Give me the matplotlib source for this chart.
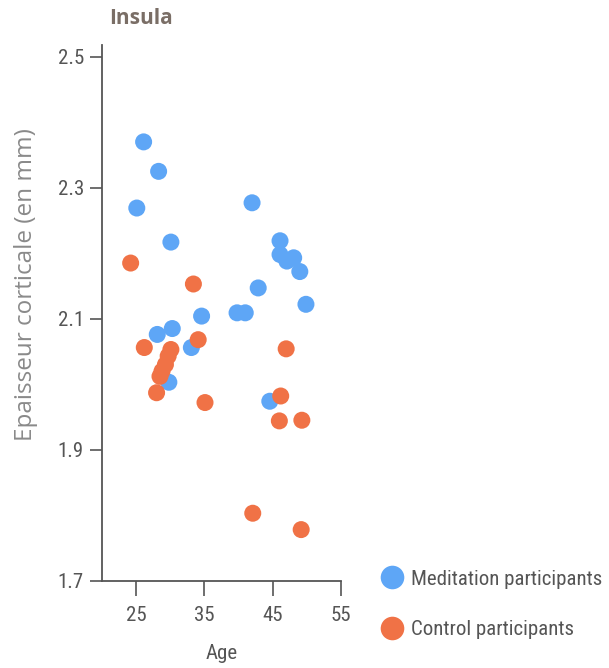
import matplotlib
matplotlib.use("Agg")
import matplotlib.pyplot as plt
from matplotlib.lines import Line2D
from matplotlib import font_manager

# Data
med_age = [26.1, 28.3, 25.1, 30.1, 42.0, 46.1, 46.1, 47.1, 48.1, 49.0, 42.9,
           49.9, 34.6, 39.8, 41.0, 28.1, 30.3, 33.1, 29.8, 44.6]
med_thk = [2.370, 2.325, 2.269, 2.217, 2.277, 2.219, 2.198, 2.188, 2.193, 2.172,
           2.147, 2.122, 2.104, 2.109, 2.109, 2.076, 2.085, 2.056, 2.003, 1.974]

ctl_age = [24.2, 33.4, 26.2, 30.1, 29.7, 29.3, 28.8, 28.5, 28.0, 34.1, 35.1,
           47.0, 46.2, 46.0, 49.3, 42.1, 49.2]
ctl_thk = [2.185, 2.153, 2.056, 2.053, 2.043, 2.030, 2.020, 2.012, 1.987, 2.068,
           1.972, 2.054, 1.982, 1.944, 1.945, 1.803, 1.778]

xticks = [25, 35, 45, 55]
yticks = [1.7, 1.9, 2.1, 2.3, 2.5]
ytick_labels = ["1.7", "1.9", "2.1", "2.3", "2.5"]

series_names = ["Meditation participants", "Control participants"]
BLUE = "#5ea6f6"
ORANGE = "#f07246"

# find a condensed font if one is installed
names = {f.name for f in font_manager.fontManager.ttflist}
cond = None
for cand in ["Liberation Sans Narrow", "Roboto Condensed", "Open Sans Condensed",
             "DejaVu Sans Condensed", "Noto Sans Condensed", "Arial Narrow"]:
    if cand in names:
        cond = cand
        break
if cond is None:
    for f in font_manager.fontManager.ttflist:
        if f.stretch in ("condensed", "semi-condensed", "extra-condensed") and "Mono" not in f.name:
            cond = f.name
            break
if cond is not None:
    narrow = [cond, "DejaVu Sans"]
    nsize = 14
    nstretch = "condensed"
else:
    narrow = ["Liberation Sans", "DejaVu Sans"]
    nsize = 13
    nstretch = "normal"

fig = plt.figure(figsize=(6.09, 6.68), dpi=100)
ax = fig.add_axes([0.1675, 0.1307, 0.392, 0.802])

ax.scatter(ctl_age, ctl_thk, s=150, color=ORANGE, edgecolors="none", zorder=3)
ax.scatter(med_age, med_thk, s=150, color=BLUE, edgecolors="none", zorder=2)

ax.set_xlim(20, 55)
ax.set_ylim(1.7, 2.518)
ax.set_xticks(xticks)
ax.set_yticks(yticks)
ax.set_yticklabels(ytick_labels)

for sp in ["top", "right"]:
    ax.spines[sp].set_visible(False)
for sp in ["left", "bottom"]:
    ax.spines[sp].set_color("#555555")
    ax.spines[sp].set_linewidth(1.3)

ax.tick_params(axis="y", direction="out", length=9, width=1.2,
               color="#555555", labelcolor="#555555", labelsize=nsize + 1, pad=4)
ax.tick_params(axis="x", direction="out", length=11, width=1.2,
               color="#555555", labelcolor="#555555", labelsize=nsize + 1, pad=7)
for lab in ax.get_xticklabels() + ax.get_yticklabels():
    lab.set_family(narrow)
    lab.set_stretch(nstretch)

ax.set_xlabel("Age", fontsize=nsize + 1, color="#555555", family=narrow,
              fontstretch=nstretch)
ax.xaxis.set_label_coords(0.5, -0.118)
ax.set_ylabel("Epaisseur corticale (en mm)", fontsize=17.5, color="#8a8a8a",
              family=["Open Sans", "DejaVu Sans"])
ax.yaxis.set_label_coords(-0.27, 0.552)

fig.text(0.18, 0.972, "Insula", fontsize=15, fontweight="bold", color="#7a6e66",
         family=["Open Sans", "DejaVu Sans"], ha="left", va="center")

handles = [Line2D([], [], marker="o", linestyle="none", markersize=17,
                  markerfacecolor=BLUE, markeredgecolor="none"),
           Line2D([], [], marker="o", linestyle="none", markersize=17,
                  markerfacecolor=ORANGE, markeredgecolor="none")]
fig.legend(handles, series_names, loc="center left",
           bbox_to_anchor=(0.592, 0.0955), frameon=False,
           prop={"family": narrow, "size": 15, "stretch": nstretch},
           labelcolor="#555555",
           handletextpad=0.3, labelspacing=1.5, handlelength=1.2)

fig.savefig("out.png", dpi=100)
